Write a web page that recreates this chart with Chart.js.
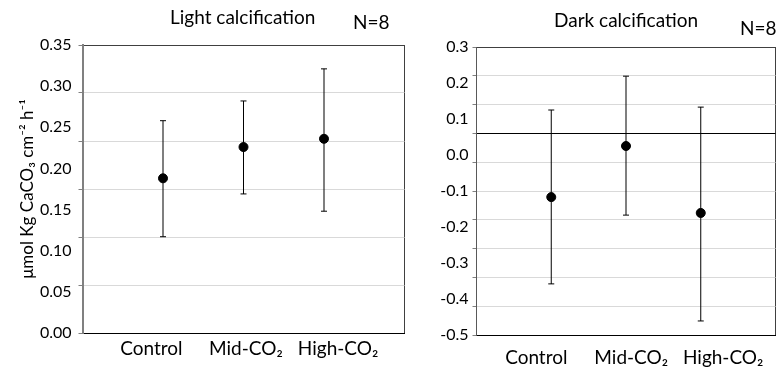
<!DOCTYPE html>
<html>
<head>
<meta charset="utf-8">
<script src="https://cdn.jsdelivr.net/npm/chart.js@4.4.1/dist/chart.umd.min.js"></script>
<style>
  body { margin: 0; background: #fff; width: 781px; height: 370px; position: relative; overflow: hidden; font-family: Lato, sans-serif; }
  #wrapL { position: absolute; left: 0; top: 0; width: 410px; height: 370px; }
  #wrapR { position: absolute; left: 410px; top: 0; width: 371px; height: 370px; }
  .lbl { position: absolute; font-size: 19px; color: #000; white-space: nowrap; line-height: 22px; }
</style>
</head>
<body>
<div id="wrapL"><canvas id="light"></canvas></div>
<div id="wrapR"><canvas id="dark"></canvas></div>
<div class="lbl" style="left:170px;top:6px">Light calcification</div>
<div class="lbl" style="left:353px;top:11px">N=8</div>
<div class="lbl" style="left:554px;top:9px">Dark calcification</div>
<div class="lbl" style="left:740px;top:17px">N=8</div>
<script>
// values
const categories = ['Control', 'Mid-CO₂', 'High-CO₂']

const lightMean = [0.188, 0.226, 0.236]
const lightHigh = [0.258, 0.282, 0.321]
const lightLow = [0.117, 0.169, 0.148]

const darkMean = [-0.117, 0.025, -0.161]
const darkHigh = [0.125, 0.219, 0.133]
const darkLow = [-0.358, -0.167, -0.461]

const lightAxis = [0, 0.35, 0.05]
const darkAxis = [-0.5, 0.3, 0.1]

const yTitle = 'μmol Kg CaCO₃ cm⁻² h⁻¹'

const pad = v => [null, ...v, null]

function makeChart(id, c) {
  const labels = ['', ...categories, '']
  const ranges = [null, ...c.low.map((l, i) => [l, c.high[i]]), null]
  return new Chart(document.getElementById(id), {
    type: 'bar',
    data: {
      labels: labels,
      datasets: [
        { type: 'line', data: pad(c.mean), showLine: false, pointRadius: 4.5, pointHoverRadius: 4.5,
          pointBackgroundColor: '#000', borderColor: '#000', order: 0 },
        { type: 'line', data: pad(c.high), showLine: false, pointStyle: 'line', pointRadius: 3,
          borderColor: '#000', borderWidth: 1, order: 1 },
        { type: 'line', data: pad(c.low), showLine: false, pointStyle: 'line', pointRadius: 3,
          borderColor: '#000', borderWidth: 1, order: 1 },
        // error bar stems
        { type: 'bar', data: ranges, barThickness: 1, inflateAmount: 0, borderWidth: 0, backgroundColor: '#000', order: 2 }
      ]
    },
    options: {
      responsive: true,
      maintainAspectRatio: false,
      animation: false,
      layout: { padding: { top: c.top, right: c.right, left: 0.5, bottom: 0 } },
      plugins: { legend: { display: false }, tooltip: { enabled: false } },
      scales: {
        x: {
          type: 'category',
          offset: false,
          weight: 0,
          grid: { offset: false, drawTicks: false, color: ctx => ctx.index === 4 ? '#404040' : 'rgba(0,0,0,0)' },
          border: { color: '#000', width: 1 },
          ticks: { display: false },
          afterFit: s => { s.height = 0 }
        },
        // the category names sit a bit apart from the points in the original
        x2: {
          type: 'linear',
          position: 'bottom',
          weight: 1,
          offset: false,
          min: 0, max: 4,
          afterBuildTicks: s => { s.ticks = c.labelAt.map(v => ({ value: v })) },
          ticks: { color: '#000', font: { family: 'Lato', size: 19 }, padding: c.xPad, maxRotation: 0, autoSkip: false,
                   callback: (v, i) => categories[i] },
          grid: { display: false, drawTicks: false, offset: false },
          border: { display: false },
          afterFit: s => { s.height = c.xHeight }
        },
        y: {
          position: 'left',
          weight: 1,
          min: c.axis[0], max: c.axis[1],
          ticks: { stepSize: c.axis[2], color: '#000', font: { family: 'Lato', size: 16 }, padding: c.yPad,
                   callback: v => (Math.round(v * 100) / 100).toFixed(c.digits) },
          grid: { display: false, drawTicks: false },
          border: { display: false },
          title: { display: !!c.title, text: c.title, color: '#000', font: { family: 'Lato', size: 17 }, padding: { top: 17, bottom: 0 } },
          afterFit: s => { s.width = c.yWidth }
        },
        y2: {
          position: 'left',
          weight: 0,
          min: 0, max: c.lines,
          ticks: { display: false, stepSize: 1 },
          grid: { color: ctx => ctx.tick.value === c.lines ? '#404040' : ctx.tick.value === c.blackAt ? '#000' : '#d9d9d9',
                  tickColor: '#808080', tickLength: 4 },
          border: { color: c.axisColor, width: c.axisWidth },
          afterFit: s => { s.width = 4 }
        }
      }
    }
  })
}

makeChart('light', {
  mean: lightMean, high: lightHigh, low: lightLow, axis: lightAxis, digits: 2,
  lines: 6, blackAt: -1, title: yTitle, top: 45, right: 3.5, xHeight: 37, xPad: 4,
  labelAt: [0.855, 2.03, 3.175],
  yWidth: 78, yPad: 7, axisColor: '#808080', axisWidth: 2
})

makeChart('dark', {
  mean: darkMean, high: darkHigh, low: darkLow, axis: darkAxis, digits: 1,
  lines: 10, blackAt: 7, title: '', top: 47, right: 0.5, xHeight: 35, xPad: 11,
  labelAt: [0.8, 2.07, 3.3],
  yWidth: 62, yPad: 4, axisColor: '#595959', axisWidth: 1
})
</script>
</body>
</html>
